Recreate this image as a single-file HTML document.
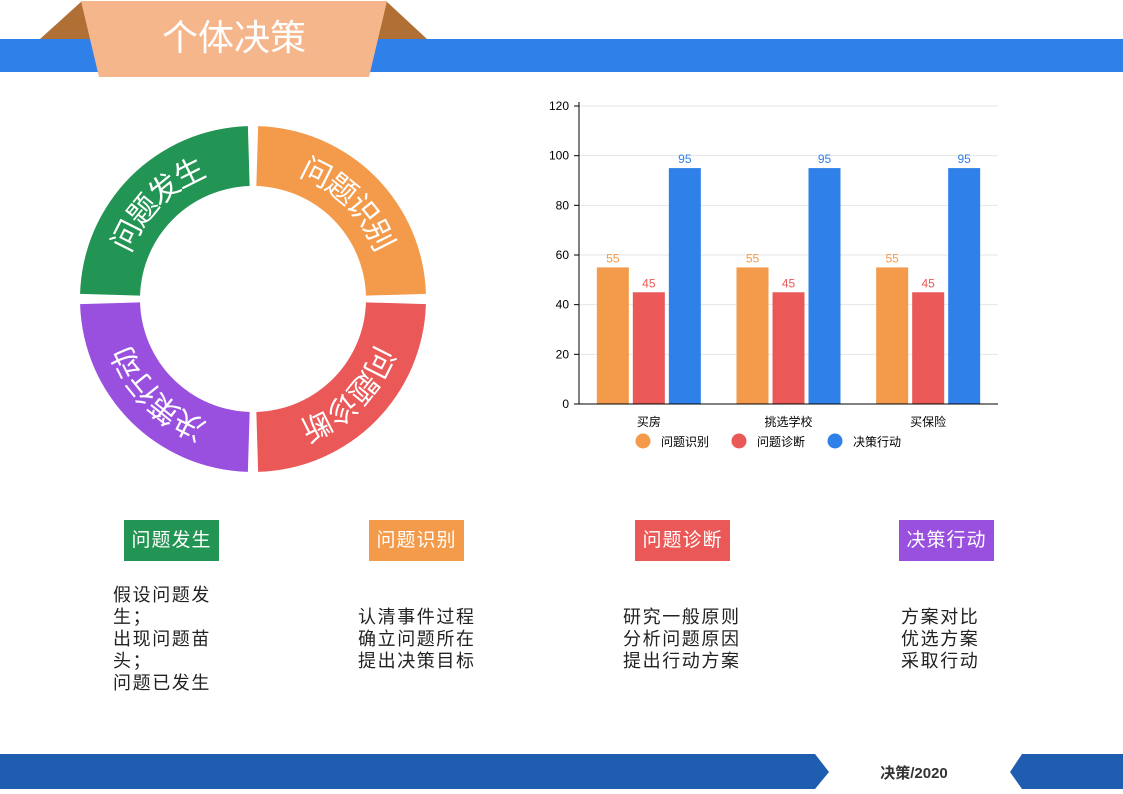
<!DOCTYPE html>
<html><head><meta charset="utf-8"><style>
body{margin:0;width:1123px;height:794px;position:relative;overflow:hidden;background:#fff;font-family:"Liberation Sans","Noto Sans CJK SC",sans-serif}
.abs{position:absolute}
.tag{position:absolute;top:520px;width:95px;height:41px;color:#fff;font-size:19px;line-height:41px;text-align:center;letter-spacing:1px}
.desc{position:absolute;font-size:18px;line-height:22px;letter-spacing:1.6px;color:#222}
</style></head><body>
<svg class="abs" style="left:0;top:0" width="1123" height="794">
  <rect x="0" y="39" width="1123" height="33" fill="#2f80e8"/>
  <polygon points="40,39 82,1 92,39" fill="#b07035"/>
  <polygon points="386,1 427,39 376,39" fill="#b07035"/>
  <polygon points="81,1 387,1 369,77 99,77" fill="#f5b68c"/>
  <text x="234" y="50" text-anchor="middle" font-size="36" fill="#fff" font-family="Liberation Sans, Noto Sans CJK SC, sans-serif">个体决策</text>
  <polygon points="0,754 815,754 829,772 815,789 0,789" fill="#1f5db0"/>
  <polygon points="1123,754 1022,754 1010,772 1022,789 1123,789" fill="#1f5db0"/>
  <text x="914" y="778" text-anchor="middle" font-size="15" font-weight="bold" fill="#333" font-family="Liberation Sans, Noto Sans CJK SC, sans-serif">决策/2020</text>
  <g id="donut"></g>
  <g id="chart"></g>
</svg>
<div class="tag" style="left:124px;background:#229453">问题发生</div>
<div class="tag" style="left:369px;background:#f39b4a">问题识别</div>
<div class="tag" style="left:635px;background:#ea5858">问题诊断</div>
<div class="tag" style="left:899px;background:#9a50df">决策行动</div>
<div class="desc" style="left:113px;top:584px;width:104px">假设问题发生；<br>出现问题苗头；<br>问题已发生</div>
<div class="desc" style="left:358px;top:606px">认清事件过程<br>确立问题所在<br>提出决策目标</div>
<div class="desc" style="left:623px;top:606px">研究一般原则<br>分析问题原因<br>提出行动方案</div>
<div class="desc" style="left:901px;top:606px">方案对比<br>优选方案<br>采取行动</div>
<script>
const NS='http://www.w3.org/2000/svg';
function mk(tag,attrs,parent){const e=document.createElementNS(NS,tag);for(const k in attrs)e.setAttribute(k,attrs[k]);parent.appendChild(e);return e;}
// donut
const stages=['问题发生','问题识别','问题诊断','决策行动'];
const stageColors=['#229453','#f39b4a','#ea5858','#9a50df'];
const donut=document.getElementById('donut');
const cx=253,cy=299,R=173,r=113,rm=141;
const defs=mk('defs',{},donut);
function pt(rad,a){const t=(a-90)*Math.PI/180;return [cx+rad*Math.cos(t),cy+rad*Math.sin(t)];}
stages.forEach((s,i)=>{
  const a0=-90+i*90+1.7,a1=a0+90-3.4;
  const p1=pt(R,a0),p2=pt(R,a1),p3=pt(r,a1),p4=pt(r,a0);
  const seg=mk('path',{d:`M${p1}A${R},${R} 0 0 1 ${p2}L${p3}A${r},${r} 0 0 0 ${p4}Z`,fill:stageColors[i]},donut);
  
  
  const q1=pt(rm,a0-10),q2=pt(rm,a1+10);
  mk('path',{id:'arc'+i,d:`M${q1}A${rm},${rm} 0 0 1 ${q2}`,fill:'none'},defs);
  const t=mk('text',{'font-size':30,fill:'#fff','dominant-baseline':'central','font-family':'Liberation Sans, Noto Sans CJK SC, sans-serif'},donut);
  
  
  const tp=mk('textPath',{href:'#arc'+i,startOffset:'50%','text-anchor':'middle'},t);
  tp.textContent=s;
});
// bar chart
const categories=['买房','挑选学校','买保险'];
const seriesNames=['问题识别','问题诊断','决策行动'];
const seriesIdentify=[55,55,55];
const seriesDiagnose=[45,45,45];
const seriesAction=[95,95,95];
const yTicks=[0,20,40,60,80,100,120];
const series=[seriesIdentify,seriesDiagnose,seriesAction];
const colors=['#f39b4a','#ea5858','#2f80e8'];
const chart=document.getElementById('chart');
const X0=579,X1=998,Y0=404,Y1=106,yMax=120;
const y=v=>Y0-(Y0-Y1)*v/yMax;
const gw=(X1-X0)/categories.length;
const bw=32,gap=4;
const font='Liberation Sans, Noto Sans CJK SC, sans-serif';
yTicks.forEach(v=>{
  if(v>0){const g=mk('line',{x1:X0,x2:X1,y1:y(v),y2:y(v),stroke:'#e6e6e6','stroke-width':1},chart);
  }
  mk('line',{x1:X0-5,x2:X0,y1:y(v),y2:y(v),stroke:'#000'},chart);
  const t=mk('text',{x:X0-10,y:y(v)+4,'text-anchor':'end','font-size':12,fill:'#000','font-family':font},chart);
  
  t.textContent=v;
});
categories.forEach((c,ci)=>{
  const gx=X0+gw*ci+gw/2;
  const total=bw*3+gap*2;
  series.forEach((sv,si)=>{
    const bx=gx-total/2+si*(bw+gap);
    const b=mk('rect',{x:bx,y:y(sv[ci]),width:bw,height:Y0-y(sv[ci]),fill:colors[si]},chart);
    
    
    const l=mk('text',{x:bx+bw/2,y:y(sv[ci])-5,'text-anchor':'middle','font-size':12,fill:colors[si],'font-family':font},chart);
    
    l.textContent=sv[ci];
  });
  const t=mk('text',{x:gx,y:Y0+22,'text-anchor':'middle','font-size':12,fill:'#000','font-family':font},chart);
  
  t.textContent=c;
});
mk('line',{x1:X0,x2:X0,y1:Y1-4,y2:Y0,stroke:'#000'},chart);
mk('line',{x1:X0,x2:X1,y1:Y0,y2:Y0,stroke:'#000'},chart);
const legX=[643,739,835];
seriesNames.forEach((n,i)=>{
  const c=mk('circle',{cx:legX[i],cy:441,r:7.5,fill:colors[i]},chart);
  
  const t=mk('text',{x:legX[i]+18,y:446,'font-size':12,fill:'#000','font-family':font},chart);
  
  t.textContent=n;
});
</script>
</body></html>
